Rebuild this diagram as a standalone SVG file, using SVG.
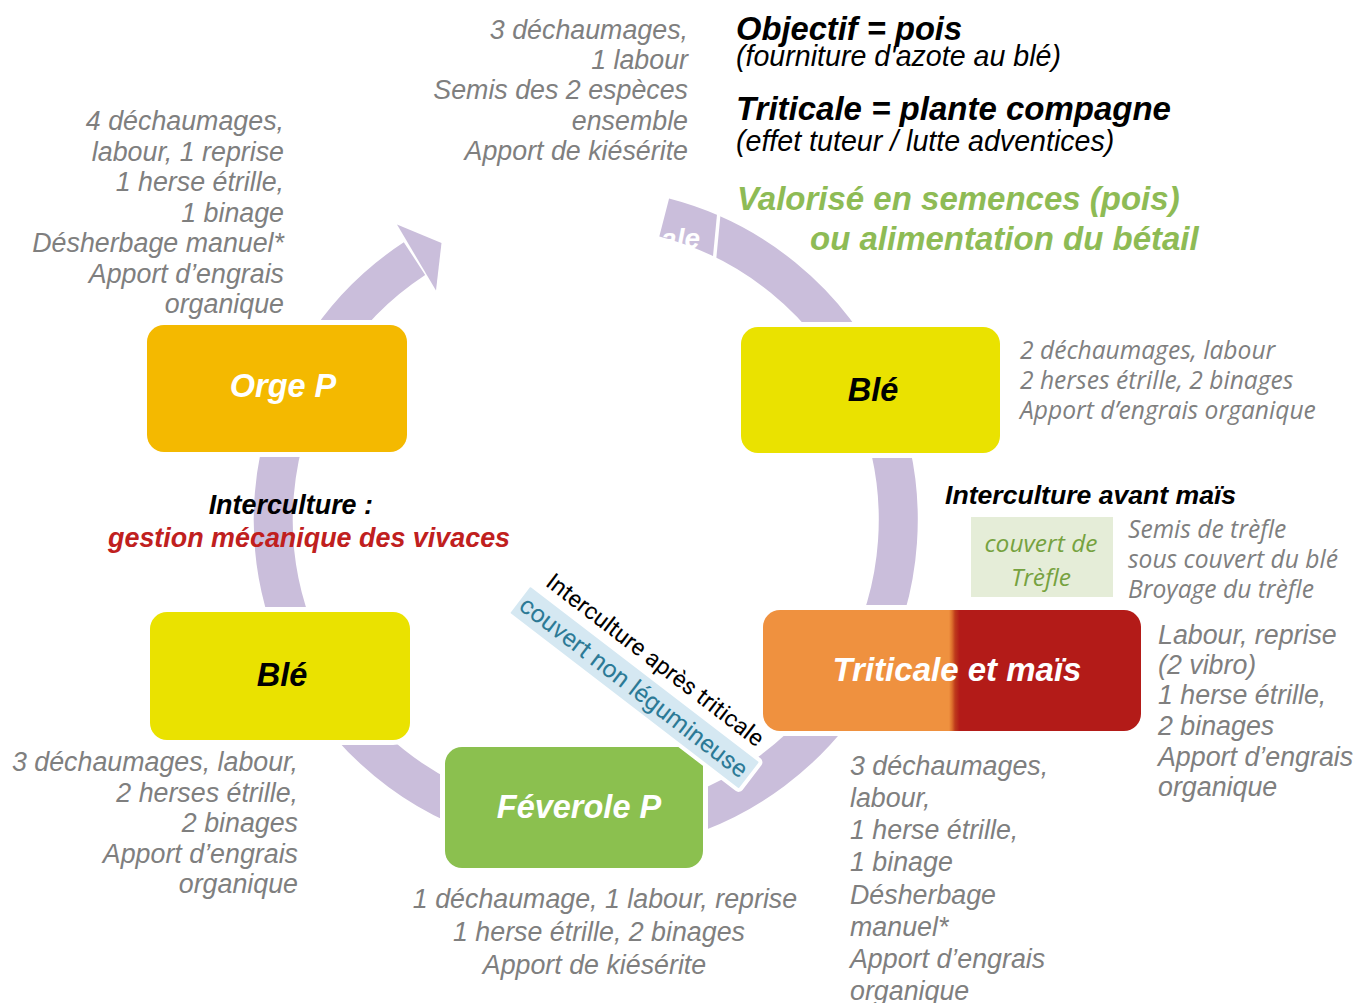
<svg xmlns="http://www.w3.org/2000/svg" width="1368" height="1003" viewBox="0 0 1368 1003">
<style>
.ring{fill:none;stroke:#CABEDB;stroke-width:39}
.box{stroke:#fff;stroke-width:10;paint-order:stroke}
.lbl{font-family:"Liberation Sans",Arial,sans-serif;font-weight:bold;font-style:italic;font-size:32.5px;text-anchor:middle}
.g{font-family:"Liberation Sans",Arial,sans-serif;font-style:italic;font-size:26.8px;fill:#7F7F7F}
.c{font-family:"Open Sans",Lato,sans-serif;font-style:italic;font-size:24.6px;fill:#7F7F7F}
.bk{font-family:"Liberation Sans",Arial,sans-serif;font-style:italic;font-weight:bold;font-size:26.9px;fill:#000}
.e{text-anchor:end}
.m{text-anchor:middle}
</style>
<defs>
<linearGradient id="trit" x1="0" y1="0" x2="1" y2="0">
<stop offset="0" stop-color="#EF913F"/>
<stop offset="0.492" stop-color="#EF913F"/>
<stop offset="0.5" stop-color="#DC6E2C"/>
<stop offset="0.508" stop-color="#BE3A1C"/>
<stop offset="0.52" stop-color="#B31B18"/>
<stop offset="1" stop-color="#B31B18"/>
</linearGradient>
</defs>
<rect width="1368" height="1003" fill="#fff"/>

<g id="connectors">
<path class="ring" d="M 664.2 217.5 A 312.5 312.5 0 1 1 414.5 258.6"/>
<polygon points="397,224.5 441.5,243 436,290.5" fill="#CABEDB"/>
<line x1="719" y1="212" x2="714" y2="264" stroke="#fff" stroke-width="3.5"/>
<text x="700" y="248" font-family="Liberation Sans,Arial,sans-serif" font-weight="bold" font-style="italic" font-size="28" fill="#fff" text-anchor="end">ale</text>
</g>

<g id="node-orge">
<rect class="box" x="147" y="325" width="260" height="127" rx="17" fill="#F4B900"/>
<text class="lbl" x="283" y="397" fill="#fff">Orge P</text>
</g>

<g id="node-ble-top">
<rect class="box" x="741" y="327" width="259" height="126" rx="17" fill="#EAE200"/>
<text class="lbl" x="873" y="401" fill="#000">Blé</text>
</g>

<g id="node-ble-left">
<rect class="box" x="150" y="612" width="260" height="128" rx="17" fill="#EAE200"/>
<text class="lbl" x="282" y="686" fill="#000">Blé</text>
</g>

<g id="node-triticale">
<rect class="box" x="763" y="610" width="378" height="121" rx="17" fill="url(#trit)"/>
<text class="lbl" x="957" y="681" fill="#fff" style="font-size:33px">Triticale et maïs</text>
</g>

<g id="node-feverole">
<rect class="box" x="445" y="747" width="258" height="121" rx="17" fill="#8BC04F"/>
<text class="lbl" x="579" y="818" fill="#fff">Féverole P</text>
</g>

<g id="label-interculture-triticale" transform="translate(530,584) rotate(37.5)">
<rect x="0" y="0" width="292" height="37" rx="3" fill="#D5E8F2" stroke="#fff" stroke-width="4"/>
<text x="5" y="27" font-family="Roboto,'Noto Sans',sans-serif" font-size="25" fill="#2C7A96">couvert non légumineuse</text>
<text x="12" y="-8" font-family="Roboto,'Noto Sans',sans-serif" font-size="23.5" fill="#000">Interculture après triticale</text>
</g>

<g id="text-top-center">
<text class="g e" x="688" y="39">3 déchaumages,</text>
<text class="g e" x="688" y="69">1 labour</text>
<text class="g e" x="688" y="99">Semis des 2 espèces</text>
<text class="g e" x="688" y="130">ensemble</text>
<text class="g e" x="688" y="160">Apport de kiésérite</text>
</g>

<g id="text-top-left">
<text class="g e" x="284" y="130">4 déchaumages,</text>
<text class="g e" x="284" y="160.5">labour, 1 reprise</text>
<text class="g e" x="284" y="191">1 herse étrille,</text>
<text class="g e" x="284" y="221.5">1 binage</text>
<text class="g e" x="284" y="252">Désherbage manuel*</text>
<text class="g e" x="284" y="282.5">Apport d’engrais</text>
<text class="g e" x="284" y="313">organique</text>
</g>

<g id="text-top-right">
<text x="736" y="40" font-family="Liberation Sans,Arial,sans-serif" font-weight="bold" font-style="italic" font-size="32.7">Objectif = pois</text>
<text x="736" y="66" font-family="Liberation Sans,Arial,sans-serif" font-style="italic" font-size="28.6">(fourniture d'azote au blé)</text>
<text x="736" y="120" font-family="Liberation Sans,Arial,sans-serif" font-weight="bold" font-style="italic" font-size="33">Triticale = plante compagne</text>
<text x="736" y="151" font-family="Liberation Sans,Arial,sans-serif" font-style="italic" font-size="28.6">(effet tuteur / lutte adventices)</text>
<text x="737" y="210" font-family="Liberation Sans,Arial,sans-serif" font-weight="bold" font-style="italic" font-size="33" fill="#8EBB55">Valorisé en semences (pois)</text>
<text x="810" y="250" font-family="Liberation Sans,Arial,sans-serif" font-weight="bold" font-style="italic" font-size="33" fill="#8EBB55">ou alimentation du bétail</text>
</g>

<g id="text-ble-right">
<text class="c" x="1020" y="359">2 déchaumages, labour</text>
<text class="c" x="1020" y="389">2 herses étrille, 2 binages</text>
<text class="c" x="1020" y="419">Apport d’engrais organique</text>
</g>

<g id="text-interculture-mais">
<text class="bk" x="945" y="504" style="font-size:26.6px">Interculture avant maïs</text>
<rect x="971" y="517" width="142" height="80" fill="#E5EDD8"/>
<text x="1041" y="552" font-family="'Open Sans',Lato,sans-serif" font-style="italic" font-size="24.5" fill="#76A23F" text-anchor="middle">couvert de</text>
<text x="1041" y="586" font-family="'Open Sans',Lato,sans-serif" font-style="italic" font-size="24.5" fill="#76A23F" text-anchor="middle">Trèfle</text>
<text class="c" x="1128" y="538">Semis de trèfle</text>
<text class="c" x="1128" y="568">sous couvert du blé</text>
<text class="c" x="1128" y="598">Broyage du trèfle</text>
</g>

<g id="text-triticale-right">
<text class="g" x="1158" y="644">Labour, reprise</text>
<text class="g" x="1158" y="674">(2 vibro)</text>
<text class="g" x="1158" y="704">1 herse étrille,</text>
<text class="g" x="1158" y="735">2 binages</text>
<text class="g" x="1158" y="766">Apport d’engrais</text>
<text class="g" x="1158" y="796">organique</text>
</g>

<g id="text-triticale-below">
<text class="g" x="850" y="775">3 déchaumages,</text>
<text class="g" x="850" y="807">labour,</text>
<text class="g" x="850" y="839">1 herse étrille,</text>
<text class="g" x="850" y="871">1 binage</text>
<text class="g" x="850" y="904">Désherbage</text>
<text class="g" x="850" y="936">manuel*</text>
<text class="g" x="850" y="968">Apport d’engrais</text>
<text class="g" x="850" y="1000">organique</text>
</g>

<g id="text-feverole-below">
<text class="g m" x="605" y="908">1 déchaumage, 1 labour, reprise</text>
<text class="g m" x="599" y="941">1 herse étrille, 2 binages</text>
<text class="g m" x="594.5" y="974">Apport de kiésérite</text>
</g>

<g id="text-ble-left">
<text class="g e" x="298" y="771">3 déchaumages, labour,</text>
<text class="g e" x="298" y="802">2 herses étrille,</text>
<text class="g e" x="298" y="832">2 binages</text>
<text class="g e" x="298" y="863">Apport d’engrais</text>
<text class="g e" x="298" y="893">organique</text>
</g>

<g id="text-interculture-left">
<text class="bk e" x="373" y="514">Interculture :</text>
<text class="bk" x="108" y="547" style="fill:#C0201E">gestion mécanique des vivaces</text>
</g>
</svg>
